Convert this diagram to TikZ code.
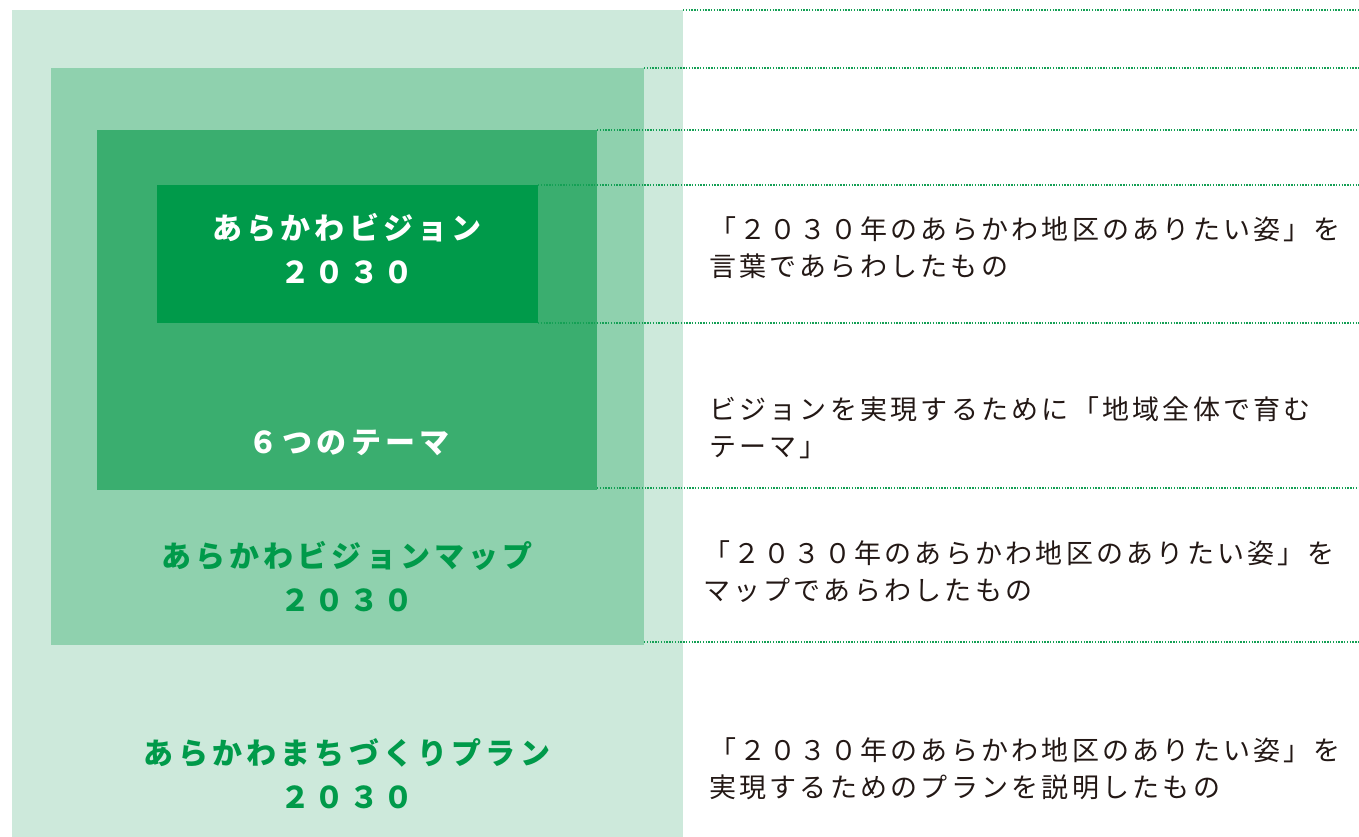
\documentclass[tikz,border=0pt]{standalone}
\usepackage{fontspec}
\setmainfont{Noto Sans CJK JP}
\newfontfamily\jpdesc[LetterSpace=12]{Noto Sans CJK JP}
\newfontfamily\jplabel[LetterSpace=14]{Noto Sans CJK JP}
\definecolor{cOne}{HTML}{CDE9DB}
\definecolor{cTwo}{HTML}{8FD1AE}
\definecolor{cThree}{HTML}{3AAE6F}
\definecolor{cFour}{HTML}{009A4A}
\definecolor{cDot}{HTML}{14A055}
\definecolor{cInk}{HTML}{231815}
\tikzset{
  panel/.style={draw=none, inner sep=0pt, outer sep=0pt, anchor=north west},
  dotline/.style={cDot, line width=1.2pt, dash pattern=on 1.4pt off 1.4pt},
  lbl/.style={inner sep=0pt, align=center, font=\jplabel\bfseries\fontsize{30}{44}\selectfont},
  desc/.style={inner sep=0pt, anchor=west, align=left, text=cInk, font=\jpdesc\fontsize{27}{37}\selectfont}
}
\begin{document}
\begin{tikzpicture}[x=1pt, y=-1pt]
\useasboundingbox (0,0) rectangle (1359,837);
\coordinate (R) at (1359,0);
% nested panels
\node[panel, fill=cOne, minimum width=671pt, minimum height=828pt] (outer) at (12,10) {};
\node[panel, fill=cTwo, minimum width=593pt, minimum height=577pt] (map) at (51,68) {};
\node[panel, fill=cThree, minimum width=500pt, minimum height=360pt] (theme) at (97,130) {};
\node[panel, fill=cFour, minimum width=381pt, minimum height=138pt] (vision) at (157,185) {};
% dotted guide lines
\draw[dotline] (outer.north east) -- (outer.north east -| R);
\draw[dotline] (map.north east) -- (map.north east -| R);
\draw[dotline] (theme.north east) -- (theme.north east -| R);
\draw[dotline] (vision.north east) -- (vision.north east -| R);
\draw[dotline] (vision.south east) -- (vision.south east -| R);
\draw[dotline] ([yshift=2pt]theme.south east) -- ([yshift=2pt]theme.south east -| R);
\draw[dotline] ([yshift=3pt]map.south east) -- ([yshift=3pt]map.south east -| R);
% labels
\node[lbl, text=white] (l1) at (347,249) {あらかわビジョン\\２０３０};
\node[lbl, text=white] (l2) at (349,443) {６つのテーマ};
\node[lbl, text=cFour] (l3) at (347,577) {あらかわビジョンマップ\\２０３０};
\node[lbl, text=cFour] (l4) at (347,774) {あらかわまちづくりプラン\\２０３０};
% descriptions
\node[desc] (d1) at (709,248) {「２０３０年のあらかわ地区のありたい姿」を\\言葉であらわしたもの};
\node[desc] (d2) at (709,428) {ビジョンを実現するために「地域全体で育む\\テーマ」};
\node[desc] (d3) at (703,572) {「２０３０年のあらかわ地区のありたい姿」を\\マップであらわしたもの};
\node[desc] (d4) at (709,769) {「２０３０年のあらかわ地区のありたい姿」を\\実現するためのプランを説明したもの};
\end{tikzpicture}
\end{document}
